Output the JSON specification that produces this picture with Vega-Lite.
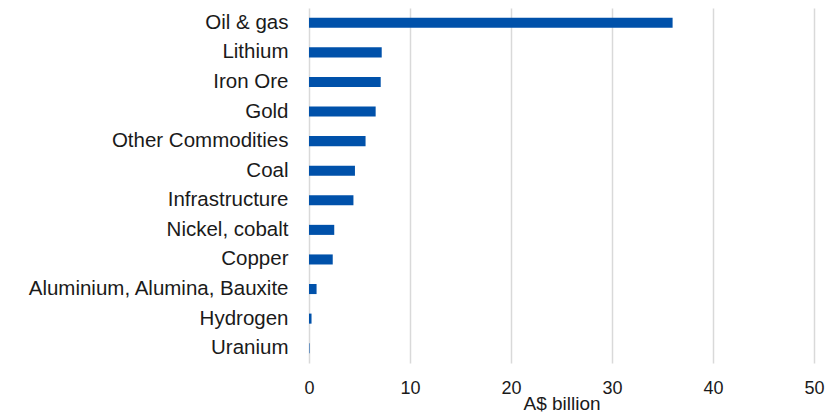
{
  "$schema": "https://vega.github.io/schema/vega-lite/v6.json",
  "autosize": "none",
  "width": 505,
  "height": 355,
  "padding": {"left": 309, "top": 8, "right": 22, "bottom": 52},
  "background": "white",
  "data": {
    "values": [
      {"category": "Oil & gas", "value": 36.0},
      {"category": "Lithium", "value": 7.2},
      {"category": "Iron Ore", "value": 7.1},
      {"category": "Gold", "value": 6.6},
      {"category": "Other Commodities", "value": 5.6},
      {"category": "Coal", "value": 4.55},
      {"category": "Infrastructure", "value": 4.4},
      {"category": "Nickel, cobalt", "value": 2.5},
      {"category": "Copper", "value": 2.35},
      {"category": "Aluminium, Alumina, Bauxite", "value": 0.75},
      {"category": "Hydrogen", "value": 0.25},
      {"category": "Uranium", "value": 0.05}
    ]
  },
  "config": {
    "view": {"stroke": null},
    "font": "Liberation Sans"
  },
  "mark": {"type": "bar", "color": "#0051AA"},
  "encoding": {
    "y": {
      "field": "category",
      "type": "nominal",
      "sort": null,
      "scale": {"paddingInner": 0.66, "paddingOuter": 0.33},
      "axis": {
        "title": null,
        "domain": false,
        "ticks": false,
        "labelFontSize": 20.5,
        "labelColor": "#1a1a1a",
        "labelPadding": 21,
        "labelLimit": 400
      }
    },
    "x": {
      "field": "value",
      "type": "quantitative",
      "scale": {"domain": [0, 50]},
      "axis": {
        "title": "A$ billion",
        "values": [0, 10, 20, 30, 40, 50],
        "domain": false,
        "ticks": false,
        "grid": true,
        "gridColor": "#d9d9d9",
        "gridWidth": 1.5,
        "labelFlush": false,
        "labelFontSize": 18,
        "labelColor": "#1a1a1a",
        "labelPadding": 16,
        "titleFontSize": 19,
        "titleFontWeight": "normal",
        "titleColor": "#1a1a1a",
        "titleY": 46,
        "titleBaseline": "alphabetic"
      }
    }
  }
}
